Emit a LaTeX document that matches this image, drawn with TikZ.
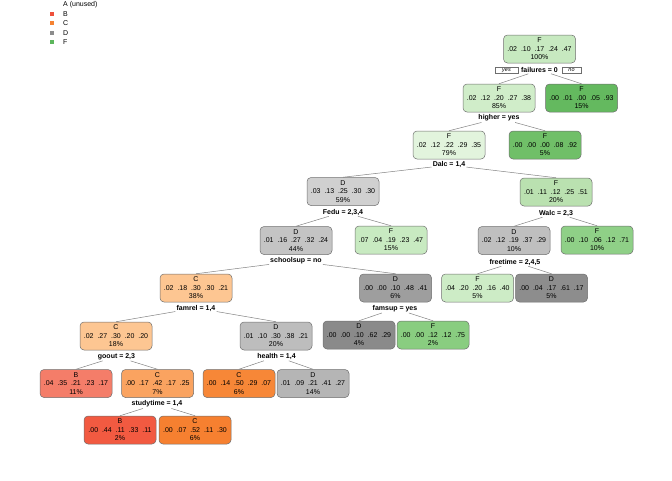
\documentclass[tikz,border=0pt]{standalone}
\usepackage{fontspec}
\setmainfont{Liberation Sans}
\definecolor{bordc}{RGB}{110,110,110}
\definecolor{linec}{RGB}{130,130,130}
\definecolor{gA}{RGB}{199,233,192}
\definecolor{gB}{RGB}{208,237,201}
\definecolor{gC}{RGB}{100,185,95}
\definecolor{gD}{RGB}{226,244,221}
\definecolor{gE}{RGB}{112,191,104}
\definecolor{gF}{RGB}{186,225,176}
\definecolor{gG}{RGB}{200,234,193}
\definecolor{gH}{RGB}{143,208,135}
\definecolor{gI}{RGB}{205,236,198}
\definecolor{gJ}{RGB}{137,205,128}
\definecolor{dA}{RGB}{208,208,208}
\definecolor{dB}{RGB}{196,196,196}
\definecolor{dC}{RGB}{191,191,191}
\definecolor{dD}{RGB}{189,189,189}
\definecolor{dE}{RGB}{181,181,181}
\definecolor{dF}{RGB}{158,158,158}
\definecolor{dG}{RGB}{141,141,141}
\definecolor{dH}{RGB}{138,138,138}
\definecolor{cA}{RGB}{253,198,146}
\definecolor{cB}{RGB}{250,163,96}
\definecolor{cC}{RGB}{247,135,55}
\definecolor{cD}{RGB}{246,128,48}
\definecolor{rA}{RGB}{244,125,105}
\definecolor{rB}{RGB}{242,90,65}
\definecolor{legB}{RGB}{238,80,60}
\definecolor{legC}{RGB}{245,130,50}
\definecolor{legD}{RGB}{140,140,140}
\definecolor{legF}{RGB}{92,182,92}
\begin{document}
\begin{tikzpicture}[x=1pt,y=-1pt,
 box/.style={draw=bordc, line width=0.5pt, rounded corners=4pt, minimum width=72pt, minimum height=28pt, inner sep=0pt, align=center, font=\fontsize{7}{8.5}\selectfont},
 split/.style={font=\fontsize{7}{8}\selectfont\bfseries, inner sep=1pt},
 br/.style={draw=linec, line width=0.5pt},
 yn/.style={draw=bordc, fill=white, line width=0.4pt, font=\fontsize{5.5}{5.5}\selectfont\itshape, inner sep=0pt, minimum height=6pt},
 leg/.style={font=\fontsize{7}{8}\selectfont, anchor=west, inner sep=0pt},
 sq/.style={minimum size=4pt, inner sep=0pt}]
\useasboundingbox (0,0) rectangle (672,480);
% legend
\node[leg] (la) at (63,5) {A (unused)};
\node[sq, fill=legB] (qb) at (51.5,14) {}; \node[leg] (lb) at (63,14) {B};
\node[sq, fill=legC] (qc) at (51.5,23.3) {}; \node[leg] (lc) at (63,23.3) {C};
\node[sq, fill=legD] (qd) at (51.5,32.6) {}; \node[leg] (ld) at (63,32.6) {D};
\node[sq, fill=legF] (qf) at (51.5,42) {}; \node[leg] (lf) at (63,42) {F};
% nodes
\node[box, fill=gA] (n1) at (539.5,49) {F\\.02~~.10~~.17~~.24~~.47\\100\%};
\node[split] (s1) at (539.5,70) {failures = 0};
\node[yn, minimum width=23pt] (yes) at (506.5,70.5) {yes};
\node[yn, minimum width=19pt] (no) at (571.5,70.5) {no};
\node[box, fill=gB] (n2) at (499,98) {F\\.02~~.12~~.20~~.27~~.38\\85\%};
\node[box, fill=gC] (n3) at (581.5,98) {F\\.00~~.01~~.00~~.05~~.93\\15\%};
\node[split] (s2) at (499,118) {higher = yes};
\node[box, fill=gD] (n4) at (449,145) {F\\.02~~.12~~.22~~.29~~.35\\79\%};
\node[box, fill=gE] (n5) at (545,145) {F\\.00~~.00~~.00~~.08~~.92\\5\%};
\node[split] (s4) at (449,165) {Dalc = 1,4};
\node[box, fill=dA] (n6) at (343,191.5) {D\\.03~~.13~~.25~~.30~~.30\\59\%};
\node[box, fill=gF] (n7) at (556,192) {F\\.01~~.11~~.12~~.25~~.51\\20\%};
\node[split] (s6) at (343,212) {Fedu = 2,3,4};
\node[split] (s7) at (556,213) {Walc = 2,3};
\node[box, fill=dB] (n8) at (296,240.5) {D\\.01~~.16~~.27~~.32~~.24\\44\%};
\node[box, fill=gG] (n9) at (391,240) {F\\.07~~.04~~.19~~.23~~.47\\15\%};
\node[box, fill=dC] (n10) at (514,240.5) {D\\.02~~.12~~.19~~.37~~.29\\10\%};
\node[box, fill=gH] (n11) at (597,240) {F\\.00~~.10~~.06~~.12~~.71\\10\%};
\node[split] (s8) at (296,261) {schoolsup = no};
\node[split] (s10) at (515,262) {freetime = 2,4,5};
\node[box, fill=cA] (n12) at (196,288) {C\\.02~~.18~~.30~~.30~~.21\\38\%};
\node[box, fill=dF] (n13) at (395.5,288) {D\\.00~~.00~~.10~~.48~~.41\\6\%};
\node[box, fill=gI] (n14) at (477.5,288) {F\\.04~~.20~~.20~~.16~~.40\\5\%};
\node[box, fill=dG] (n15) at (551.5,288) {D\\.00~~.04~~.17~~.61~~.17\\5\%};
\node[split] (s12) at (196,308) {famrel = 1,4};
\node[split] (s13) at (395,308.5) {famsup = yes};
\node[box, fill=cA] (n16) at (116,336) {C\\.02~~.27~~.30~~.20~~.20\\18\%};
\node[box, fill=dD] (n17) at (276,336) {D\\.01~~.10~~.30~~.38~~.21\\20\%};
\node[box, fill=dH] (n18) at (359,335) {D\\.00~~.00~~.10~~.62~~.29\\4\%};
\node[box, fill=gJ] (n19) at (433,335) {F\\.00~~.00~~.12~~.12~~.75\\2\%};
\node[split] (s16) at (116.5,356.5) {goout = 2,3};
\node[split] (s17) at (276.5,356.5) {health = 1,4};
\node[box, fill=rA] (n20) at (76,383.5) {B\\.04~~.35~~.21~~.23~~.17\\11\%};
\node[box, fill=cB] (n21) at (157.5,383.5) {C\\.00~~.17~~.42~~.17~~.25\\7\%};
\node[box, fill=cC] (n22) at (239,383.5) {C\\.00~~.14~~.50~~.29~~.07\\6\%};
\node[box, fill=dE] (n23) at (313,383.5) {D\\.01~~.09~~.21~~.41~~.27\\14\%};
\node[split] (s21) at (157,404) {studytime = 1,4};
\node[box, fill=rB] (n24) at (120,430) {B\\.00~~.44~~.11~~.33~~.11\\2\%};
\node[box, fill=cD] (n25) at (195,430) {C\\.00~~.07~~.52~~.11~~.30\\6\%};
% branches
\foreach \s/\a/\b in {s1/n2/n3, s2/n4/n5, s4/n6/n7, s6/n8/n9, s7/n10/n11, s8/n12/n13, s10/n14/n15, s12/n16/n17, s13/n18/n19, s16/n20/n21, s17/n22/n23, s21/n24/n25}{
  \draw[br] (\s) -- (\a.north);
  \draw[br] (\s) -- (\b.north);
}
\end{tikzpicture}
\end{document}
